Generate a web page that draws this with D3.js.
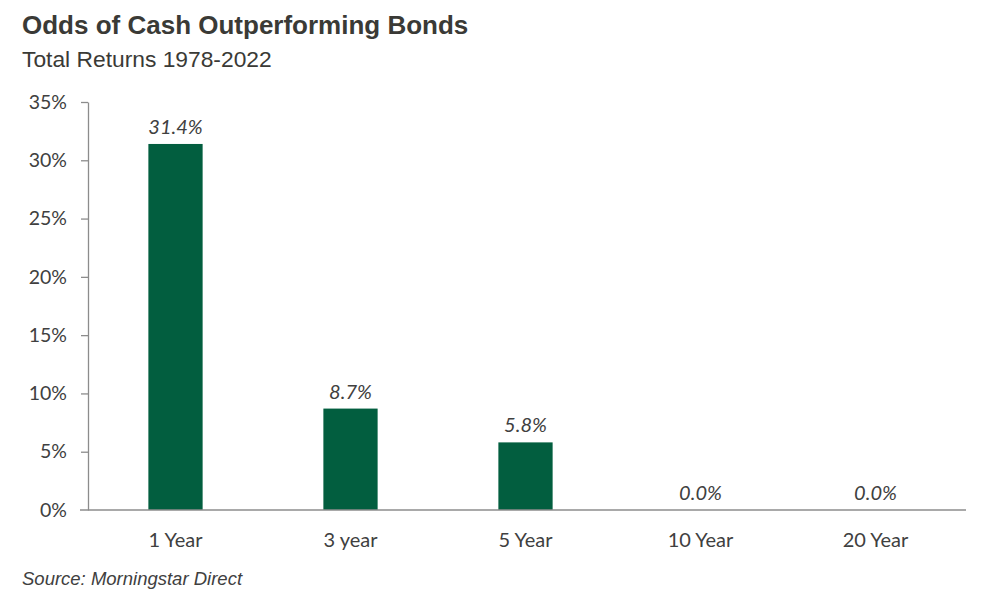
<!DOCTYPE html>
<html>
<head>
<meta charset="utf-8">
<script src="https://cdn.jsdelivr.net/npm/d3@7"></script>
<style>
  body { margin: 0; background: #fff; }
  svg text { fill: #404040; }
</style>
</head>
<body>
<svg id="chart" width="1000" height="597"></svg>
<script>
// datos
const categories = ["1 Year", "3 year", "5 Year", "10 Year", "20 Year"];
const values = [31.4, 8.7, 5.8, 0.0, 0.0];
const yTicks = [0, 5, 10, 15, 20, 25, 30, 35];

const svg = d3.select("#chart");
const margin = { left: 88, right: 37, top: 102, bottom: 87 };
const width = +svg.attr("width"), height = +svg.attr("height");

// titulos
svg.append("text")
  .attr("x", 22).attr("y", 34)
  .attr("font-family", "Liberation Sans, Arial, sans-serif")
  .attr("font-weight", "bold").attr("font-size", 26)
  .style("fill", "#3a3a36")
  .text("Odds of Cash Outperforming Bonds");
svg.append("text")
  .attr("x", 22).attr("y", 67)
  .attr("font-family", "Liberation Sans, Arial, sans-serif")
  .attr("font-size", 22.8)
  .style("fill", "#3a3a36")
  .text("Total Returns 1978-2022");

const x = d3.scaleBand()
  .domain(categories)
  .range([margin.left, width - margin.right])
  .paddingInner(0.69).paddingOuter(0.345);

const y = d3.scaleLinear()
  .domain([0, 35])
  .range([height - margin.bottom, margin.top]);

// eje y
const yAxis = svg.append("g")
  .attr("transform", `translate(${margin.left},0)`)
  .call(d3.axisLeft(y).tickValues(yTicks).tickSize(7).tickSizeOuter(0).tickPadding(14)
    .tickFormat(d => d + "%"));
yAxis.selectAll("line, path").attr("stroke", "#8c8c8c").attr("stroke-width", 1.3);
yAxis.selectAll("text")
  .attr("font-family", "Lato, 'Open Sans', sans-serif")
  .attr("font-size", 19.5).style("fill", "#404040");
yAxis.selectAll(".tick").filter(d => d === 0).select("line").remove();

// barras
svg.selectAll("rect.bar")
  .data(values)
  .join("rect")
  .attr("class", "bar")
  .attr("x", (d, i) => x(categories[i]))
  .attr("width", x.bandwidth())
  .attr("y", d => y(d))
  .attr("height", d => y(0) - y(d))
  .attr("fill", "#025e3f");

// eje x
const xAxis = svg.append("g")
  .attr("transform", `translate(0,${y(0)})`)
  .call(d3.axisBottom(x).tickSize(0).tickSizeOuter(0).tickPadding(23));
xAxis.select("path").attr("d", `M${margin.left - 8},0H${width - margin.right + 3}`)
  .attr("stroke", "#8c8c8c").attr("stroke-width", 1.3);
xAxis.selectAll("text")
  .attr("font-family", "Lato, 'Open Sans', sans-serif")
  .attr("font-size", 20).style("fill", "#404040");

// etiquetas de valores
svg.selectAll("text.val")
  .data(values)
  .join("text")
  .attr("class", "val")
  .attr("x", (d, i) => x(categories[i]) + x.bandwidth() / 2)
  .attr("y", d => y(d) - 10)
  .attr("text-anchor", "middle")
  .attr("font-family", "Lato, 'Open Sans', sans-serif")
  .attr("font-style", "italic").attr("font-size", 20)
  .text(d => d.toFixed(1) + "%");

// fuente
svg.append("text")
  .attr("x", 22).attr("y", 585)
  .attr("font-family", "Liberation Sans, Arial, sans-serif")
  .attr("font-style", "italic").attr("font-size", 18.5)
  .style("fill", "#404040")
  .text("Source: Morningstar Direct");
</script>
</body>
</html>
